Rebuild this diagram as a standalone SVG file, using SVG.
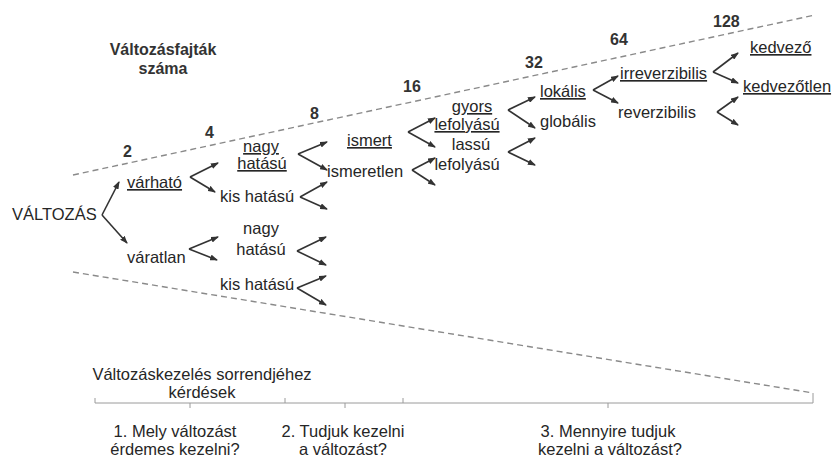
<svg xmlns="http://www.w3.org/2000/svg" width="834" height="460" viewBox="0 0 834 460">
<defs>
<marker id="ah" markerUnits="userSpaceOnUse" markerWidth="8" markerHeight="6" refX="7" refY="3" orient="auto">
<path d="M0,0 L8,3 L0,6 z" fill="#333"/>
</marker>
<style>
text{font-family:"Liberation Sans",Arial,sans-serif;font-size:16.5px;fill:#262626}
.b{font-weight:bold;font-size:16px;fill:#333}
.u{text-decoration:underline}
.m{text-anchor:middle}
.c line{stroke:#333;stroke-width:1.6;marker-end:url(#ah)}
.d{stroke:#8a8a8a;stroke-width:1.4;stroke-dasharray:6 4;fill:none}
.ax{stroke:#9a9a9a;stroke-width:1;fill:none}
</style>
</defs>
<rect width="834" height="460" fill="#fff"/>

<g id="guides">
<line class="d" x1="73" y1="175" x2="815" y2="15"/>
<line class="d" x1="73" y1="272" x2="813" y2="393"/>
</g>

<g id="axis">
<path class="ax" d="M95,403 H813 M95,398 V403 M190,403 V408 M285,398 V403 M345,403 V408 M403,398 V403 M608,403 V408 M813,393 V403"/>
</g>

<g id="title">
<text class="b m" x="163" y="55">Változásfajták</text>
<text class="b m" x="163" y="74">száma</text>
</g>
<g id="counts">
<text class="b" x="123" y="157">2</text>
<text class="b" x="205" y="138">4</text>
<text class="b" x="310" y="119">8</text>
<text class="b" x="403" y="92">16</text>
<text class="b" x="525" y="68">32</text>
<text class="b" x="610" y="45">64</text>
<text class="b" x="713" y="27">128</text>
</g>

<g class="c" id="connectors">
<line x1="102" y1="215" x2="119" y2="182"/><line x1="102" y1="215" x2="127" y2="243"/>
<line x1="190" y1="177" x2="218" y2="163"/><line x1="190" y1="177" x2="215" y2="192"/>
<line x1="189" y1="249" x2="218" y2="237"/><line x1="189" y1="249" x2="217" y2="260"/>
<line x1="298" y1="154" x2="327" y2="142"/><line x1="298" y1="154" x2="327" y2="170"/>
<line x1="300" y1="197" x2="327" y2="182"/><line x1="300" y1="197" x2="327" y2="209"/>
<line x1="297" y1="251" x2="326" y2="237"/><line x1="297" y1="251" x2="326" y2="265"/>
<line x1="297" y1="288" x2="326" y2="276"/><line x1="297" y1="288" x2="326" y2="305"/>
<line x1="408" y1="132" x2="435" y2="118"/><line x1="408" y1="132" x2="435" y2="147"/>
<line x1="412" y1="170" x2="435" y2="158"/><line x1="412" y1="170" x2="435" y2="185"/>
<line x1="508" y1="110" x2="535" y2="97"/><line x1="508" y1="110" x2="535" y2="128"/>
<line x1="508" y1="152" x2="535" y2="138"/><line x1="508" y1="152" x2="535" y2="165"/>
<line x1="593" y1="90" x2="618" y2="76"/><line x1="593" y1="90" x2="618" y2="103"/>
<line x1="713" y1="72" x2="738" y2="53"/><line x1="713" y1="72" x2="738" y2="83"/>
<line x1="717" y1="112" x2="738" y2="97"/><line x1="717" y1="112" x2="738" y2="125"/>
</g>

<g id="n-valtozas"><text x="12" y="220">VÁLTOZÁS</text></g>
<g id="n-varhato"><text class="u" x="127" y="188">várható</text></g>
<g id="n-varatlan"><text x="127" y="263">váratlan</text></g>
<g id="n-nagy1"><text class="u m" x="261" y="152">nagy</text><text class="u m" x="262" y="169">hatású</text></g>
<g id="n-kis1"><text x="220" y="202">kis hatású</text></g>
<g id="n-nagy2"><text class="m" x="261" y="234">nagy</text><text class="m" x="261" y="255">hatású</text></g>
<g id="n-kis2"><text x="220" y="290">kis hatású</text></g>
<g id="n-ismert"><text class="u" x="347" y="146">ismert</text></g>
<g id="n-ismeretlen"><text x="327" y="177">ismeretlen</text></g>
<g id="n-gyors"><text class="u m" x="472" y="112">gyors</text><text class="u m" x="467" y="130">lefolyású</text></g>
<g id="n-lassu"><text class="m" x="471" y="150">lassú</text><text class="m" x="467" y="170">lefolyású</text></g>
<g id="n-lokalis"><text class="u" x="540" y="97">lokális</text></g>
<g id="n-globalis"><text x="540" y="127">globális</text></g>
<g id="n-irrev"><text class="u" x="620" y="79">irreverzibilis</text></g>
<g id="n-rev"><text x="618" y="118">reverzibilis</text></g>
<g id="n-kedvezo"><text class="u" x="750" y="53">kedvező</text></g>
<g id="n-kedvezotlen"><text class="u" x="743" y="92">kedvezőtlen</text></g>

<g id="q-head"><text class="m" x="202" y="380">Változáskezelés sorrendjéhez</text><text class="m" x="202" y="398">kérdések</text></g>
<g id="q1"><text class="m" x="175" y="437">1. Mely változást</text><text class="m" x="175" y="455">érdemes kezelni?</text></g>
<g id="q2"><text class="m" x="343" y="437">2. Tudjuk kezelni</text><text class="m" x="343" y="455">a változást?</text></g>
<g id="q3"><text class="m" x="608" y="437">3. Mennyire tudjuk</text><text class="m" x="610" y="455">kezelni a változást?</text></g>
</svg>
